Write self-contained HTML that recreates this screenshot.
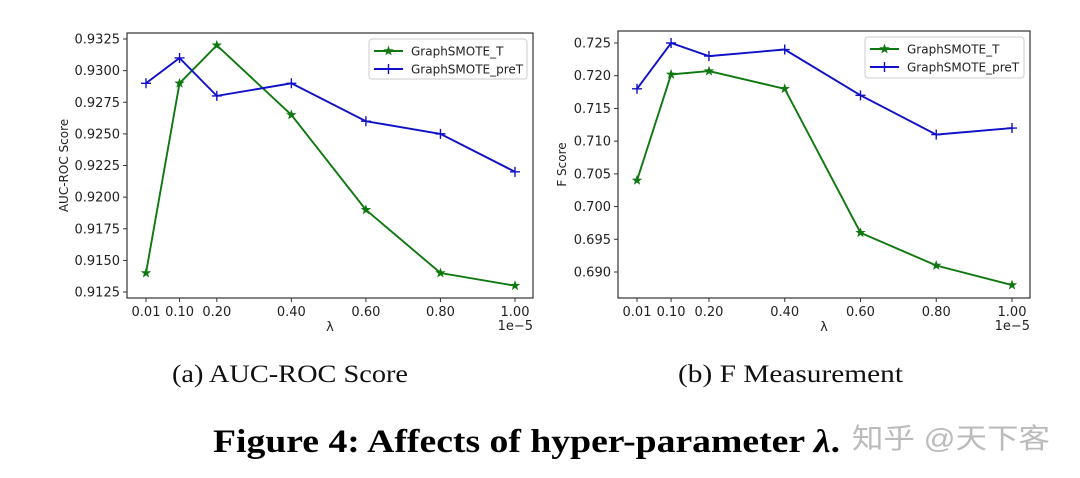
<!DOCTYPE html>
<html><head><meta charset="utf-8">
<style>
html,body{margin:0;padding:0;background:#fff;}
svg{display:block;}
text{font-family:"DejaVu Sans","Liberation Sans",sans-serif;}
</style></head>
<body>
<svg id="fig" width="1080" height="478" viewBox="0 0 1080 478" xmlns="http://www.w3.org/2000/svg">
<rect width="1080" height="478" fill="#fff"/>
<text x="172" y="382" font-size="25" textLength="236" lengthAdjust="spacingAndGlyphs" style="font-family:'Liberation Serif',serif" fill="#111">(a)  AUC-ROC Score</text>
<text x="678" y="382" font-size="25" textLength="225" lengthAdjust="spacingAndGlyphs" style="font-family:'Liberation Serif',serif" fill="#111">(b)  F Measurement</text>
<text x="213" y="452" font-size="33" font-weight="bold" textLength="627" lengthAdjust="spacingAndGlyphs" style="font-family:'Liberation Serif',serif" fill="#000">Figure 4: Affects of hyper-parameter <tspan font-style="italic">λ</tspan>.</text>
<text x="852" y="448" font-size="28" fill="#bbb" textLength="198" lengthAdjust="spacingAndGlyphs" style="font-family:'Liberation Sans','Noto Sans CJK SC',sans-serif">知乎 @天下客</text>
</svg>
<script>
const lambdas = [0.01, 0.10, 0.20, 0.40, 0.60, 0.80, 1.00];
const xTickLabels = ["0.01","0.10","0.20","0.40","0.60","0.80","1.00"];
const aucT = [0.9140, 0.9290, 0.9320, 0.9265, 0.9190, 0.9140, 0.9130];
const aucPreT = [0.9290, 0.9310, 0.9280, 0.9290, 0.9260, 0.9250, 0.9220];
const aucTicks = [0.9125,0.9150,0.9175,0.9200,0.9225,0.9250,0.9275,0.9300,0.9325];
const fT = [0.704, 0.7202, 0.7207, 0.718, 0.696, 0.691, 0.688];
const fPreT = [0.718, 0.725, 0.723, 0.724, 0.717, 0.711, 0.712];
const fTicks = [0.690,0.695,0.700,0.705,0.710,0.715,0.720,0.725];
const seriesNames = ["GraphSMOTE_T","GraphSMOTE_preT"];

const NS="http://www.w3.org/2000/svg";
const svg=document.getElementById('fig');
function mk(tag,attrs,parent){const e=document.createElementNS(NS,tag);for(const k in attrs)e.setAttribute(k,attrs[k]);(parent||svg).appendChild(e);return e;}

function star(cx,cy,r){let p=[];for(let i=0;i<10;i++){const a=-Math.PI/2+i*Math.PI/5;const rr=i%2?r*0.4:r;p.push((cx+rr*Math.cos(a)).toFixed(1)+","+(cy+rr*Math.sin(a)).toFixed(1));}return p.join(" ");}

function drawChart(cfg){
  const g=mk('g',{});
  
  
  const xs=v=>cfg.x0+(v-0.01)/(0.99)*(cfg.x1-cfg.x0);
  const ys=v=>cfg.yA+(v-cfg.vA)/(cfg.vB-cfg.vA)*(cfg.yB-cfg.yA);
  const fr=mk('rect',{x:cfg.bx0,y:cfg.by0,width:cfg.bx1-cfg.bx0,height:cfg.by1-cfg.by0,fill:'none',stroke:'#333','stroke-width':1.2},g);
  
  
  cfg.ticks.forEach(t=>{
    const y=ys(t);
    mk('line',{x1:cfg.bx0-4,x2:cfg.bx0,y1:y,y2:y,stroke:'#333'},g);
    const tx=mk('text',{x:cfg.bx0-7,y:y+4.5,'font-size':13,'text-anchor':'end',fill:'#222'},g);
    tx.textContent=t.toFixed(cfg.dec);
    
    
  });
  lambdas.forEach((l,i)=>{
    const x=xs(l);
    mk('line',{x1:x,x2:x,y1:cfg.by1,y2:cfg.by1+4,stroke:'#333'},g);
    const tx=mk('text',{x:x,y:cfg.by1+18,'font-size':13,'text-anchor':'middle',fill:'#222'},g);
    tx.textContent=xTickLabels[i];
    
    
  });
  const ex=mk('text',{x:cfg.bx1,y:cfg.by1+32,'font-size':13,'text-anchor':'end',fill:'#222'},g);
  ex.textContent='1e−5';
  
  
  const xl=mk('text',{x:(cfg.bx0+cfg.bx1)/2,y:cfg.by1+33,'font-size':13,'text-anchor':'middle',fill:'#222'},g);
  xl.textContent='λ';
  
  
  const yc=(cfg.by0+cfg.by1)/2;
  const yl=mk('text',{x:cfg.ylx,y:yc,'font-size':12,'text-anchor':'middle',fill:'#222',transform:`rotate(-90 ${cfg.ylx} ${yc})`},g);
  yl.textContent=cfg.ylabel;
  
  
  const series=[[cfg.s1,'#107810','star'],[cfg.s2,'#1010c8','plus']];
  series.forEach(([vals,col,m],si)=>{
    const pts=vals.map((v,i)=>xs(lambdas[i]).toFixed(1)+','+ys(v).toFixed(1)).join(' ');
    const pl=mk('polyline',{points:pts,fill:'none',stroke:col,'stroke-width':1.9},g);
    
    
    vals.forEach((v,i)=>{
      const x=xs(lambdas[i]),y=ys(v);
      let mEl;
      if(m==='star') mEl=mk('polygon',{points:star(x,y,5.5),fill:col},g);
      else mEl=mk('path',{d:`M${x-5},${y}H${x+5}M${x},${y-5}V${y+5}`,stroke:col,'stroke-width':1.4},g);
      
      
    });
  });
  const L=cfg.leg;
  const lg=mk('g',{},g);
  
  
  mk('rect',{x:L[0],y:L[1],width:L[2],height:L[3],rx:3,fill:'#fff',stroke:'#ccc'},lg);
  series.forEach(([v,col,m],si)=>{
    const y=L[1]+12+si*18, x=L[0]+5;
    mk('line',{x1:x,x2:x+29,y1:y,y2:y,stroke:col,'stroke-width':1.9},lg);
    if(m==='star') mk('polygon',{points:star(x+14.5,y,5.5),fill:col},lg);
    else mk('path',{d:`M${x+9.5},${y}H${x+19.5}M${x+14.5},${y-5}V${y+5}`,stroke:col,'stroke-width':1.4},lg);
    const t=mk('text',{x:x+37,y:y+4.5,'font-size':12,fill:'#222'},lg);
    t.textContent=seriesNames[si];
    
    
  });
}
drawChart({name:'auc-roc-chart',bx0:127,bx1:533,by0:33,by1:298,x0:146,x1:515,
  vA:0.9325,yA:39,vB:0.9125,yB:292,ticks:aucTicks,dec:4,ylabel:'AUC-ROC Score',ylx:68,
  s1:aucT,s2:aucPreT,leg:[369,39,158,40]});
drawChart({name:'f-score-chart',bx0:618,bx1:1030,by0:31,by1:298,x0:637,x1:1012,
  vA:0.725,yA:43,vB:0.690,yB:272,ticks:fTicks,dec:3,ylabel:'F Score',ylx:566,
  s1:fT,s2:fPreT,leg:[865,37,159,41]});
</script>
</body></html>
